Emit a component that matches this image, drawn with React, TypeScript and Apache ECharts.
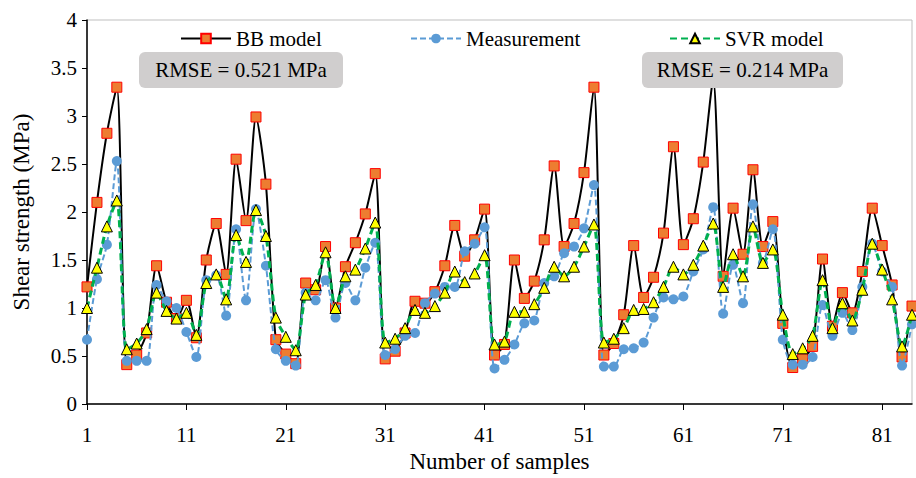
import React, { useEffect, useRef } from "react";
import * as echarts from "echarts";

const samples: string[] = Array.from({ length: 84 }, (_, i) => String(i + 1));

const bbModel: number[] = [
  1.22, 2.10, 2.82, 3.30, 0.41, 0.51, 0.74, 1.44, 1.06, 0.89,
  1.08, 0.69, 1.50, 1.88, 1.35, 2.55, 1.91, 2.99, 2.29, 0.67,
  0.52, 0.42, 1.26, 1.19, 1.64, 1.00, 1.43, 1.68, 1.98, 2.40,
  0.47, 0.55, 0.74, 1.07, 1.05, 1.17, 1.44, 1.86, 1.54, 1.71,
  2.03, 0.51, 0.62, 1.50, 1.10, 1.28, 1.71, 2.48, 1.64, 1.88,
  2.41, 3.30, 0.51, 0.63, 0.93, 1.65, 1.11, 1.32, 1.78, 2.68,
  1.66, 1.93, 2.52, 3.38, 1.33, 2.04, 1.56, 2.44, 1.64, 1.90,
  0.84, 0.38, 0.47, 0.60, 1.51, 0.81, 1.16, 0.95, 1.38, 2.04,
  1.65, 1.24, 0.49, 1.02,
];

const measurement: number[] = [
  0.67, 1.30, 1.66, 2.53, 0.45, 0.45, 0.45, 1.24, 1.07, 1.00,
  0.75, 0.49, 1.29, 1.34, 0.92, 1.82, 1.08, 2.03, 1.44, 0.57,
  0.45, 0.40, 1.16, 1.08, 1.29, 0.90, 1.26, 1.08, 1.42, 1.68,
  0.51, 0.57, 0.71, 0.74, 1.05, 1.15, 1.22, 1.22, 1.59, 1.67,
  1.84, 0.37, 0.46, 0.62, 0.84, 0.87, 1.26, 1.33, 1.57, 1.64,
  1.83, 2.28, 0.39, 0.39, 0.57, 0.58, 0.64, 0.90, 1.11, 1.09,
  1.12, 1.38, 1.61, 2.05, 0.94, 1.45, 1.05, 2.08, 1.47, 1.82,
  0.67, 0.41, 0.41, 0.49, 1.03, 0.71, 0.95, 0.77, 1.22, 1.67,
  1.38, 1.22, 0.40, 0.83,
];

const svrModel: number[] = [
  1.00, 1.42, 1.85, 2.12, 0.57, 0.63, 0.78, 1.16, 0.97, 0.89,
  0.95, 0.72, 1.26, 1.35, 1.09, 1.76, 1.48, 2.02, 1.75, 0.90,
  0.70, 0.56, 1.14, 1.24, 1.58, 1.00, 1.33, 1.40, 1.62, 1.89,
  0.64, 0.68, 0.79, 0.98, 0.95, 1.02, 1.16, 1.38, 1.27, 1.36,
  1.55, 0.62, 0.65, 0.96, 0.96, 1.04, 1.21, 1.43, 1.33, 1.43,
  1.64, 1.87, 0.64, 0.68, 0.79, 0.98, 0.99, 1.06, 1.22, 1.43,
  1.35, 1.45, 1.65, 1.88, 1.22, 1.56, 1.33, 1.85, 1.47, 1.61,
  0.93, 0.52, 0.58, 0.71, 1.29, 0.79, 1.05, 0.87, 1.19, 1.67,
  1.40, 1.09, 0.60, 0.93,
];

const rmseTexts: string[] = ["RMSE = 0.521 MPa", "RMSE = 0.214 MPa"];

const FONT = "'Liberation Serif', 'Times New Roman', serif";

export default function App() {
  const ref = useRef<HTMLDivElement>(null);
  useEffect(() => {
    if (!ref.current) return;
    const chart = echarts.init(ref.current, undefined, { renderer: "svg" });
    const legendBase = {
      orient: "horizontal",
      top: 23,
      itemWidth: 50,
      itemHeight: 12,
      textStyle: { fontFamily: FONT, fontSize: 21, color: "#000" },
    };
    const box = (left: number, width: number, text: string) => ({
      type: "group",
      left,
      top: 52,
      z: 100,
      zlevel: 1,
      children: [
        {
          type: "rect",
          z: 100,
          zlevel: 1,
          shape: { x: 0, y: 0, width, height: 36, r: 6 },
          style: { fill: "#D0CECE" },
        },
        {
          type: "text",
          z: 101,
          zlevel: 1,
          x: width / 2,
          y: 18,
          style: {
            text,
            fontFamily: FONT,
            fontSize: 21,
            fill: "#000",
            align: "center",
            verticalAlign: "middle",
          },
        },
      ],
    });
    chart.setOption({
      animation: false,
      backgroundColor: "#fff",
      grid: {
        left: 87,
        right: 4,
        top: 20,
        bottom: 73,
        show: true,
        borderColor: "#BFBFBF",
        borderWidth: 1,
      },
      legend: [
        { ...legendBase, left: 175, data: ["BB model"] },
        { ...legendBase, left: 405, data: ["Measurement"] },
        { ...legendBase, left: 664, data: ["SVR model"] },
      ],
      xAxis: {
        type: "category",
        data: samples,
        boundaryGap: false,
        name: "Number of samples",
        nameLocation: "middle",
        nameGap: 46,
        nameTextStyle: { fontFamily: FONT, fontSize: 23, color: "#000" },
        axisLine: { lineStyle: { color: "#000", width: 1.5 } },
        axisTick: { interval: 9, length: 6, inside: false, lineStyle: { color: "#000" } },
        axisLabel: { interval: 9, margin: 20, fontFamily: FONT, fontSize: 21, color: "#000" },
        splitLine: { show: false },
      },
      yAxis: {
        type: "value",
        min: 0,
        max: 4,
        interval: 0.5,
        name: "Shear strength (MPa)",
        nameLocation: "middle",
        nameGap: 54,
        nameTextStyle: { fontFamily: FONT, fontSize: 23, color: "#000" },
        axisLine: { show: true, lineStyle: { color: "#000", width: 1.5 } },
        axisTick: { show: true, length: 5, lineStyle: { color: "#000" } },
        axisLabel: { margin: 10, fontFamily: FONT, fontSize: 21, color: "#000" },
        splitLine: { show: false },
      },
      series: [
        {
          name: "BB model",
          type: "line",
          data: bbModel,
          smooth: 0.25,
          showAllSymbol: true,
          symbol: "rect",
          symbolSize: 10,
          lineStyle: { color: "#000", width: 2 },
          itemStyle: { color: "#ED7D31", borderColor: "#FF0000", borderWidth: 1 },
          z: 2,
        },
        {
          name: "Measurement",
          type: "line",
          data: measurement,
          smooth: 0.25,
          showAllSymbol: true,
          symbol: "circle",
          symbolSize: 10,
          lineStyle: { color: "#5B9BD5", width: 2, type: [6, 3] },
          itemStyle: { color: "#5B9BD5", borderColor: "#5B9BD5", borderWidth: 0 },
          z: 3,
        },
        {
          name: "SVR model",
          type: "line",
          data: svrModel,
          smooth: 0.25,
          showAllSymbol: true,
          symbol: "triangle",
          symbolSize: 11,
          lineStyle: { color: "#00B050", width: 3, type: [7, 4] },
          itemStyle: { color: "#FFFF00", borderColor: "#000", borderWidth: 1 },
          z: 4,
        },
      ],
      graphic: {
        z: 100,
        zlevel: 1,
        elements: [
          box(139, 204, rmseTexts[0]),
          box(642, 201, rmseTexts[1]),
        ],
      },
    });
    return () => chart.dispose();
  }, []);
  return <div ref={ref} style={{ width: 916, height: 478, position: "absolute", left: 0, top: 0 }} />;
}
